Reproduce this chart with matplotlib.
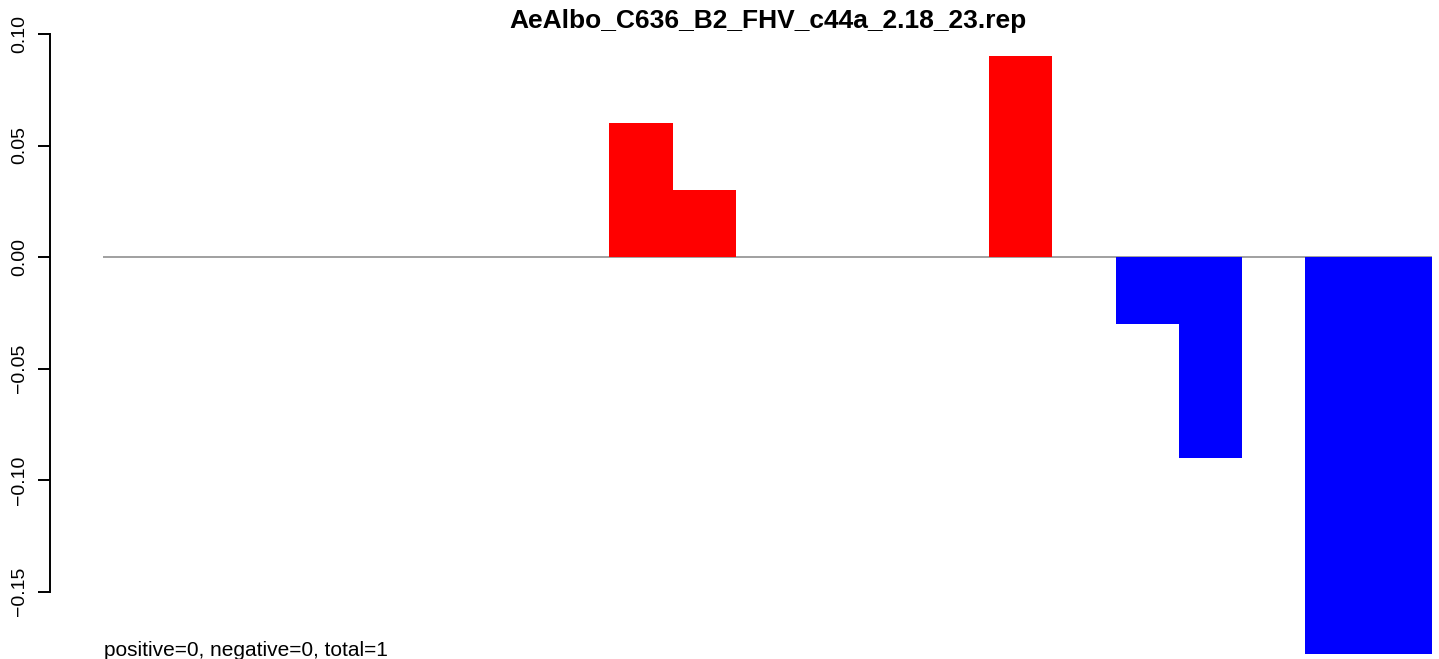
import matplotlib
matplotlib.use('Agg')
import matplotlib.pyplot as plt

# Valores (21 barras, sem espaço entre elas)
TITLE = 'AeAlbo_C636_B2_FHV_c44a_2.18_23.rep'
FOOTER = 'positive=0, negative=0, total=1'
values = [0, 0, 0, 0, 0, 0, 0, 0, 0.06, 0.03, 0, 0, 0, 0, 0.09, 0,
          -0.03, -0.09, 0, -0.178, -0.178]
y_ticks = [-0.15, -0.10, -0.05, 0.00, 0.05, 0.10]
y_tick_labels = ['\u22120.15', '\u22120.10', '\u22120.05', '0.00', '0.05', '0.10']

plt.rcParams['font.family'] = ['Liberation Sans', 'DejaVu Sans']

W, H = 1439, 659
fig = plt.figure(figsize=(W / 100, H / 100), dpi=100)

# Posição dos eixos em pixels
px_left, px_right = 50, 1432
ymin, ymax = -0.19, 0.105
px_per_unit = 2230
zero_px = 257
top_px = zero_px - ymax * px_per_unit
bot_px = zero_px - ymin * px_per_unit
ax = fig.add_axes([px_left / W, 1 - bot_px / H, (px_right - px_left) / W, (bot_px - top_px) / H])

n = len(values)
colors = ['red' if v > 0 else 'blue' for v in values]
ax.hlines(0, 0, n, color='#a0a0a0', linewidth=1.4, zorder=1)
ax.bar(range(n), values, width=1.0, align='edge', color=colors, linewidth=0, zorder=2)

ax.set_xlim((px_left - 103) / ((px_right - 103) / n), n)
ax.set_ylim(ymin, ymax)

for side in ['top', 'right', 'bottom']:
    ax.spines[side].set_visible(False)
ax.spines['left'].set_bounds(-0.15, 0.10)
ax.spines['left'].set_linewidth(1.4)
ax.set_xticks([])
ax.set_yticks(y_ticks)
ax.set_yticklabels(y_tick_labels, rotation=90, va='center', fontsize=14)
ax.tick_params(axis='y', length=8.5, width=1.4, pad=7)

fig.text(768 / W, 1 - 21 / H, TITLE, ha='center', va='center', fontsize=19, fontweight='bold')
fig.text(104 / W, 1 - 656 / H, FOOTER, ha='left', va='baseline', fontsize=15)

fig.savefig('out.png', dpi=100)
